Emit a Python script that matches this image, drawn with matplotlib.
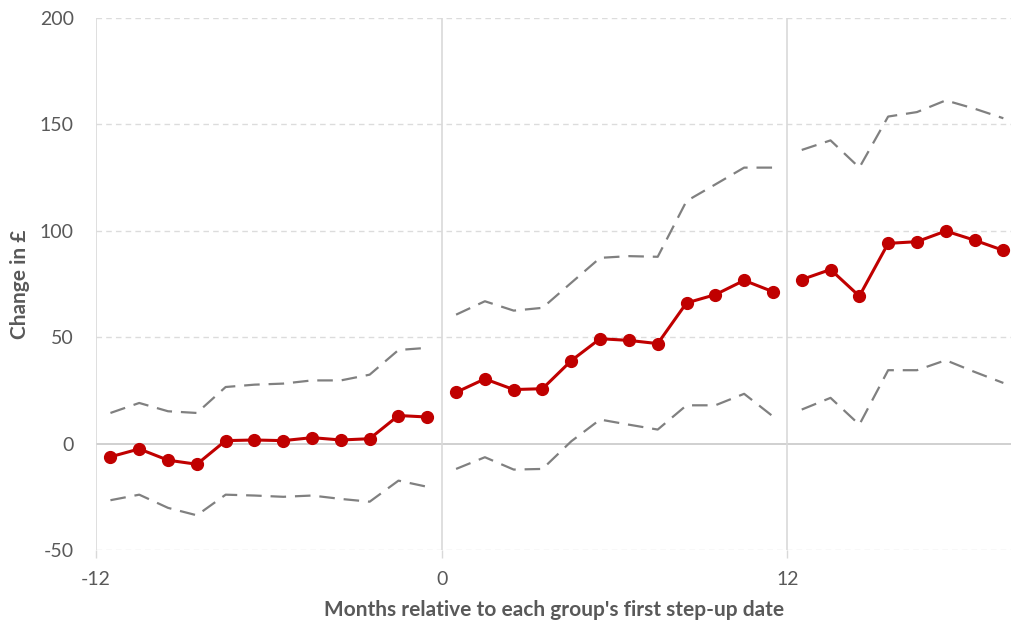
import matplotlib.pyplot as plt
import numpy as np

# months relative to first step-up date, split into three yearly segments
months_pre = [-11.5, -10.5, -9.5, -8.5, -7.5, -6.5, -5.5, -4.5, -3.5, -2.5, -1.5, -0.5]
months_yr1 = [0.5, 1.5, 2.5, 3.5, 4.5, 5.5, 6.5, 7.5, 8.5, 9.5, 10.5, 11.5]
months_yr2 = [12.5, 13.5, 14.5, 15.5, 16.5, 17.5, 18.5, 19.5]

est_pre = [-6.2, -2.5, -7.8, -9.7, 1.4, 1.7, 1.4, 2.8, 1.7, 2.3, 13.2, 12.5]
upper_pre = [14.4, 19.1, 15.2, 14.4, 26.6, 27.7, 28.2, 29.7, 29.7, 32.4, 44.0, 45.0]
lower_pre = [-26.6, -24.0, -30.2, -33.7, -24.0, -24.4, -25.0, -24.4, -26.0, -27.3, -17.4, -20.3]

est_yr1 = [24.1, 30.4, 25.4, 25.8, 39.0, 49.3, 48.5, 47.0, 66.1, 70.0, 76.7, 71.4]
upper_yr1 = [60.6, 66.9, 62.5, 63.8, 75.6, 87.3, 88.1, 87.8, 114.0, 121.8, 129.7, 129.7]
lower_yr1 = [-11.9, -6.4, -12.2, -11.9, 1.1, 11.3, 8.9, 6.6, 18.0, 18.0, 23.4, 12.8]

est_yr2 = [77.1, 81.8, 69.3, 94.1, 94.9, 99.9, 95.6, 90.8]
upper_yr2 = [138.0, 142.5, 129.7, 153.7, 155.8, 161.3, 157.4, 152.9]
lower_yr2 = [16.0, 21.5, 8.9, 34.5, 34.5, 39.2, 33.7, 28.5]

x_ticks = [-12, 0, 12]
y_ticks = [-50, 0, 50, 100, 150, 200]

plt.rcParams['font.family'] = ['Lato', 'DejaVu Sans']
plt.rcParams['axes.unicode_minus'] = False
text_grey = '#595959'

fig = plt.figure(figsize=(10.12, 6.26), dpi=100)
ax = fig.add_axes([0.0949, 0.1214, 0.9051, 0.8498])

# horizontal gridlines: dashed, with a solid zero line
for y in y_ticks:
    if y == 0:
        ax.axhline(y, color='#C8C8C8', lw=1.2, zorder=1)
    else:
        ax.axhline(y, color='#DCDCDC', lw=1.0, ls=(0, (4, 3)), zorder=1)

# yearly boundaries
for x in x_ticks:
    ax.axvline(x, color='#D9D9D9', lw=1.2, zorder=1)

segments = [
    (months_pre, est_pre, upper_pre, lower_pre),
    (months_yr1, est_yr1, upper_yr1, lower_yr1),
    (months_yr2, est_yr2, upper_yr2, lower_yr2),
]
for xs, est, up, lo in segments:
    ax.plot(xs, up, color='#808080', lw=1.6, ls=(0, (7, 4)), zorder=2)
    ax.plot(xs, lo, color='#808080', lw=1.6, ls=(0, (7, 4)), zorder=2)
    ax.plot(xs, est, color='#C00000', lw=2.2, marker='o', markersize=8.5,
            zorder=3)

ax.set_xlim(-12, 19.8)
ax.set_ylim(-50, 200)
ax.set_xticks(x_ticks)
ax.set_yticks(y_ticks)
ax.tick_params(axis='y', length=0, pad=16, labelsize=14, labelcolor=text_grey)
ax.tick_params(axis='x', length=6, width=1.0, color='#D9D9D9', pad=9,
               labelsize=14, labelcolor=text_grey)
for s in ax.spines.values():
    s.set_visible(False)

ax.set_ylabel('Change in £', fontsize=15, fontweight='bold', color=text_grey)
ax.yaxis.set_label_coords(-0.072, 0.5)
ax.set_xlabel("Months relative to each group's first step-up date", fontsize=15,
              fontweight='bold', color=text_grey, labelpad=9)

fig.savefig('out.png', dpi=100)
